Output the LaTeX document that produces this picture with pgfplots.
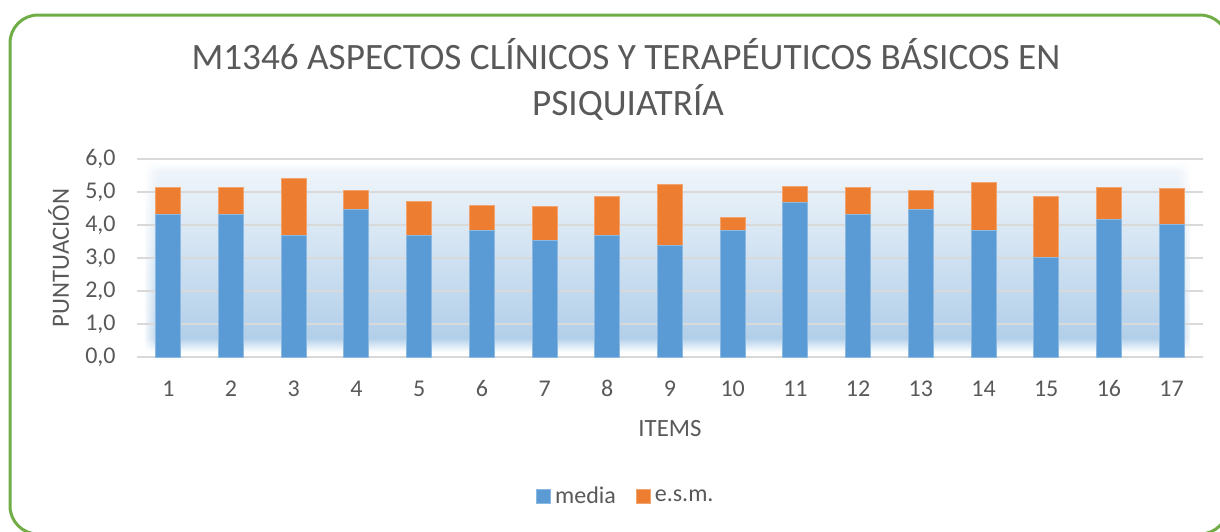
\documentclass[border=0pt]{standalone}
\usepackage{fontspec}
\setmainfont{Carlito}
\usepackage{pgfplots}
\pgfplotsset{compat=1.18}
\usetikzlibrary{fadings}

\definecolor{media}{HTML}{5B9BD5}
\definecolor{esm}{HTML}{ED7D31}
\definecolor{txt}{HTML}{595959}
\definecolor{gridc}{HTML}{D9D9D9}
\definecolor{frame}{HTML}{70AD47}
\definecolor{bgT}{HTML}{EEF4FA}
\definecolor{bgB}{HTML}{B2CFE9}

% media and e.s.m. per item (stacked)
\pgfplotstableread{
item media esm
1  4.33 0.80
2  4.33 0.80
3  3.67 1.74
4  4.48 0.58
5  3.67 1.05
6  3.82 0.78
7  3.52 1.05
8  3.67 1.20
9  3.39 1.83
10 3.82 0.42
11 4.68 0.50
12 4.33 0.81
13 4.48 0.58
14 3.82 1.47
15 3.01 1.86
16 4.17 0.97
17 4.01 1.09
}\datatable

\begin{document}
\begin{tikzpicture}[x=0.5pt, y=-0.5pt]
\useasboundingbox (0,0) rectangle (1220,531);
% frame
\begin{scope}
  \clip (0,0) rectangle (1220,531);
  \draw[frame, line width=1.5pt, rounded corners=14pt] (10,15) rectangle (1228,534);
\end{scope}
% title
\node[anchor=base, text=txt, font=\fontsize{18.6}{21}\selectfont] at (626,69) {M1346 ASPECTOS CLÍNICOS Y TERAPÉUTICOS BÁSICOS EN};
\node[anchor=base, text=txt, font=\fontsize{18.6}{21}\selectfont] at (628,115) {PSIQUIATRÍA};
% plot area gradient
\fill[top color=white, bottom color=bgT] (145,162) rectangle (1190,172);
\fill[top color=bgT, bottom color=bgB] (145,172) rectangle (1190,338);
\fill[top color=bgB, bottom color=white] (145,338) rectangle (1190,352);
\fill[white, path fading=east] (143,160) rectangle (158,354);
\fill[white, path fading=west] (1177,160) rectangle (1192,354);

\begin{axis}[
    at={(68.5pt,-178.5pt)}, anchor=south west,
    scale only axis,
    width=533pt, height=99pt,
    ybar stacked,
    bar width=12.5pt,
    xmin=0.5, xmax=17.5,
    ymin=0, ymax=6,
    xtick=data,
    ytick={0,1,...,6},
    axis line style={draw=none},
    major tick length=0pt,
    ymajorgrids,
    grid style={gridc, line width=1pt},
    tick label style={text=txt, font=\fontsize{12}{14}\selectfont, inner sep=0pt,
      /pgf/number format/assume math mode=true},
    xticklabel style={anchor=base, yshift=-19.8pt},
    yticklabel style={xshift=-10.5pt,
      /pgf/number format/.cd, fixed, fixed zerofill, precision=1, use comma},
    xlabel={ITEMS},
    ylabel={PUNTUACIÓN},
    label style={text=txt, font=\fontsize{12.4}{14}\selectfont},
    xlabel style={at={(axis description cs:0.5,0)}, anchor=base, yshift=-39.5pt},
    ylabel style={at={(axis description cs:0,0.5)}, anchor=base, yshift=34pt},
    legend columns=2,
    legend style={at={(0.4595,-0.707)}, anchor=center, draw=none, fill=none,
      font=\fontsize{12}{14}\selectfont, text=txt,
      /tikz/every even column/.append style={column sep=8pt}},
    legend image code/.code={\fill[#1] (0pt,-3.5pt) rectangle (7pt,3.5pt);},
]
\addplot[fill=media, draw=media!70!white, line width=0.5pt] table[x=item, y=media] {\datatable};
\addplot[fill=esm, draw=esm!70!white, line width=0.5pt] table[x=item, y=esm] {\datatable};
\legend{media, e.s.m.}
\end{axis}
\end{tikzpicture}
\end{document}
